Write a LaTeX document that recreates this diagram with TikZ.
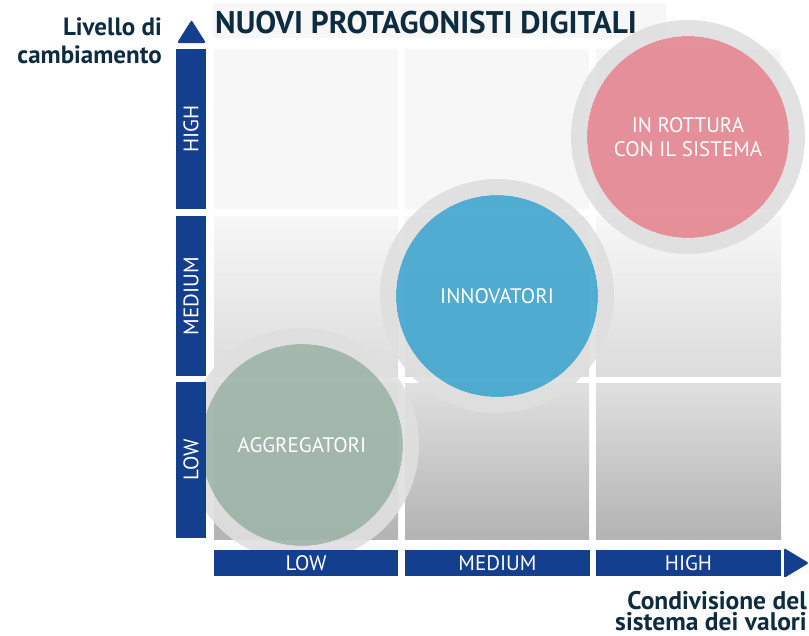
\documentclass[tikz,border=0pt]{standalone}
\usepackage{fontspec}
\setmainfont{PT Sans}
\usepackage{tikz}

\definecolor{barblue}{HTML}{143F8F}
\definecolor{titletext}{HTML}{0D2C40}
\definecolor{ringgray}{HTML}{DFDFDF}
\definecolor{aggcol}{HTML}{A0B5AA}
\definecolor{innocol}{HTML}{45A7CF}
\definecolor{rotcol}{HTML}{E48893}
\definecolor{cellhi}{HTML}{F7F7F7}
\definecolor{cellmid}{HTML}{DCDCDC}
\definecolor{celllo}{HTML}{B3B3B3}

\begin{document}
\begin{tikzpicture}[x=1pt,y=-1pt,
  bar/.style={fill=barblue,inner sep=0pt,text=white,font=\fontsize{21}{21}\selectfont},
  ybar/.style={bar,rotate=90,minimum height=30pt},
  xbar/.style={bar,minimum height=26pt},
  bubble/.style={circle,minimum size=202pt,inner sep=0pt,fill opacity=.93,text opacity=1,
    text=white,font=\fontsize{21}{24}\selectfont,align=center},
  ring/.style={draw=ringgray,line width=16pt,draw opacity=.92},
  axistitle/.style={text=titletext,font=\bfseries\fontsize{25}{28}\selectfont,align=right,inner sep=0pt}]
\useasboundingbox (0,0) rectangle (809,635);
%titolo
\fill[cellhi] (213,3) rectangle (666,38);
\node[anchor=base west,inner sep=0pt,text=titletext,font=\bfseries\fontsize{31.3}{31}\selectfont]
  (title) at (215,33) {NUOVI PROTAGONISTI DIGITALI};
%griglia
\foreach \xa/\xb in {214/398,405/589,596/781}{
  \fill[cellhi] (\xa,49) rectangle (\xb,209);
  \shade[top color=cellhi,bottom color=cellmid] (\xa,216) rectangle (\xb,376);
  \shade[top color=cellmid!90!white,bottom color=celllo] (\xa,383) rectangle (\xb,539);
}
%cerchi
\node[bubble,fill=aggcol] (agg) at (302,445) {AGGREGATORI};
\draw[ring] (agg.center) circle[radius=109];
\node[bubble,fill=innocol] (inno) at (497,296) {INNOVATORI};
\draw[ring] (inno.center) circle[radius=109];
\node[bubble,fill=rotcol] (rot) at (688,137) {IN ROTTURA\\CON IL SISTEMA};
\draw[ring] (rot.center) circle[radius=109];
%assi
\fill[barblue,rounded corners=2pt] (191.5,20) -- (206,43) -- (177,43) -- cycle;
\node[ybar,minimum width=160pt] (yhigh) at (191,129) {HIGH};
\node[ybar,minimum width=160pt] (ymed) at (191,296) {MEDIUM};
\node[ybar,minimum width=156pt] (ylow) at (191,460) {LOW};
\node[xbar,minimum width=184pt] (xlow) at (306,563) {LOW};
\node[xbar,minimum width=185pt] (xmed) at (497.5,563) {MEDIUM};
\node[xbar,minimum width=185pt] (xhigh) at (688.5,563) {HIGH};
\fill[barblue,rounded corners=2pt] (784,548) -- (809,563) -- (784,578) -- cycle;
%Text
\node[axistitle,anchor=base east] (ytitle) at (162,63) {Livello di\\cambiamento};
\node[axistitle,anchor=base east,font=\bfseries\fontsize{25.5}{20.5}\selectfont] (xtitle) at (807,630)
  {Condivisione del\\sistema dei valori};
\end{tikzpicture}
\end{document}
